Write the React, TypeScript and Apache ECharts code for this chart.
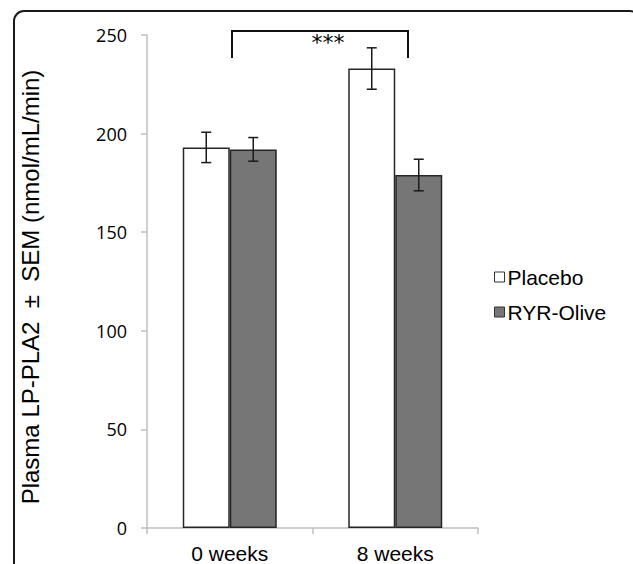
import React, { useEffect, useRef } from "react";
import * as echarts from "echarts";

const categories = ["0 weeks", "8 weeks"];
const placeboMean = [193, 233];
const placeboSem = [7.7, 10.5];
const ryrMean = [192, 179];
const ryrSem = [6, 8];
const yTicks = [0, 50, 100, 150, 200, 250];
const seriesNames = ["Placebo", "RYR-Olive"];
const yTitle = "Plasma LP-PLA2  ±  SEM (nmol/mL/min)";
const sigLabel = "***";

const BAR_W = 47;

function errorSeries(means: number[], sems: number[], offset: number) {
  return {
    type: "custom",
    silent: true,
    z: 10,
    data: means.map((m, i) => [i, m, sems[i]]),
    renderItem: (params: any, api: any) => {
      const i = api.value(0);
      const m = api.value(1);
      const s = api.value(2);
      const hi = api.coord([i, m + s]);
      const lo = api.coord([i, m - s]);
      const cx = hi[0] + offset;
      const cap = 5;
      const style = { stroke: "#1a1a1a", lineWidth: 1.5 };
      return {
        type: "group",
        children: [
          { type: "line", shape: { x1: cx, y1: hi[1], x2: cx, y2: lo[1] }, style },
          { type: "line", shape: { x1: cx - cap, y1: hi[1], x2: cx + cap, y2: hi[1] }, style },
          { type: "line", shape: { x1: cx - cap, y1: lo[1], x2: cx + cap, y2: lo[1] }, style },
        ],
      };
    },
  };
}

export default function App() {
  const ref = useRef<HTMLDivElement>(null);
  useEffect(() => {
    if (!ref.current) return;
    const chart = echarts.init(ref.current, undefined, { renderer: "svg" });
    const axisGray = "#bfbfbf";
    chart.setOption({
      animation: false,
      backgroundColor: "#fff",
      grid: { left: 147, top: 35, width: 331, height: 496, containLabel: false },
      legend: {
        data: seriesNames,
        orient: "vertical",
        left: 489,
        top: 260,
        itemWidth: 10,
        itemHeight: 10,
        itemGap: 11,
        icon: "rect",
        itemStyle: { borderColor: "#333", borderWidth: 1 },
        textStyle: {
          fontFamily: "Liberation Sans, Arial, sans-serif",
          fontSize: 21,
          color: "#000",
          lineHeight: 24,
          padding: [0, 0, 0, -2],
        },
      },
      xAxis: {
        type: "category",
        data: categories,
        axisLine: { lineStyle: { color: axisGray, width: 1.5 } },
        axisTick: { show: true, length: 6, lineStyle: { color: axisGray, width: 1.5 } },
        axisLabel: {
          fontFamily: "Liberation Sans, Arial, sans-serif",
          fontSize: 21,
          color: "#000",
          margin: 15,
        },
      },
      yAxis: {
        type: "value",
        min: 0,
        max: 250,
        interval: 50,
        splitLine: { show: false },
        axisLine: { show: true, lineStyle: { color: axisGray, width: 1.5 } },
        axisTick: { show: true, length: 6, lineStyle: { color: axisGray, width: 1.5 } },
        axisLabel: {
          fontFamily: "Open Sans, sans-serif",
          fontSize: 18,
          color: "#000",
          margin: 20,
          formatter: (v: number) => (yTicks.includes(v) ? String(v) : ""),
        },
      },
      graphic: [
        {
          type: "rect",
          shape: { x: 14, y: 11, width: 626, height: 620, r: 10 },
          style: { fill: "none", stroke: "#1a1a1a", lineWidth: 2 },
          z: 100,
        },
        {
          type: "polyline",
          shape: { points: [[232, 58], [232, 31], [408, 31], [408, 58]] },
          style: { fill: "none", stroke: "#111", lineWidth: 2 },
          z: 100,
        },
        {
          type: "text",
          x: 328,
          y: 42,
          style: {
            text: sigLabel,
            fontFamily: "DejaVu Sans, sans-serif",
            fontSize: 22,
            fill: "#000",
            align: "center",
            verticalAlign: "middle",
          },
          z: 100,
        },
        {
          type: "text",
          x: 30,
          y: 287,
          rotation: Math.PI / 2,
          style: {
            text: yTitle,
            fontFamily: "Liberation Sans, Arial, sans-serif",
            fontSize: 24,
            fill: "#000",
            align: "center",
            verticalAlign: "middle",
          },
          z: 100,
        },
      ],
      series: [
        {
          name: seriesNames[0],
          type: "bar",
          data: placeboMean,
          barWidth: BAR_W,
          barGap: "0%",
          itemStyle: { color: "#ffffff", borderColor: "#262626", borderWidth: 1.5 },
        },
        {
          name: seriesNames[1],
          type: "bar",
          data: ryrMean,
          barWidth: BAR_W,
          barGap: "0%",
          itemStyle: { color: "#767676", borderColor: "#262626", borderWidth: 1.5 },
        },
        errorSeries(placeboMean, placeboSem, -BAR_W / 2),
        errorSeries(ryrMean, ryrSem, BAR_W / 2),
      ],
    });
    return () => chart.dispose();
  }, []);
  return (
    <div
      ref={ref}
      style={{ position: "absolute", left: 0, top: 0, width: 633, height: 564 }}
    />
  );
}
